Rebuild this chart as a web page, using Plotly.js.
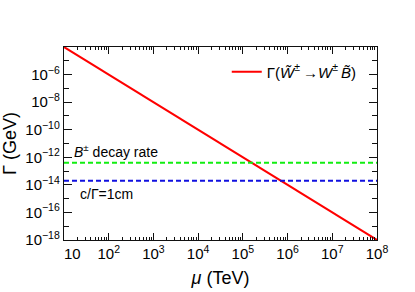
<!DOCTYPE html>
<html><head><meta charset="utf-8">
<script src="https://cdn.plot.ly/plotly-3.0.1.min.js"></script>
<style>html,body{margin:0;padding:0;background:#fff;}#c{width:415px;height:292px;}</style>
</head><body><div id="c"></div>
<script>
// Data
const muTeV = [10, 1e8];
const gammaWino = [1e-4, 1e-18];
const bandX = [10, 1e8];
const bDecayRate = [4e-13, 4e-13];
const ctau1cm = [2e-14, 2e-14];
const xTickVals = [10, 1e2, 1e3, 1e4, 1e5, 1e6, 1e7, 1e8];
const xTickText = ['\u00a0\u00a0\u00a0\u00a010', '10<sup>2</sup>', '10<sup>3</sup>', '10<sup>4</sup>', '10<sup>5</sup>', '10<sup>6</sup>', '10<sup>7</sup>', '10<sup>8</sup>'];
const yTickVals = [1e-18, 1e-16, 1e-14, 1e-12, 1e-10, 1e-8, 1e-6];
const yTickText = ['10<sup>\u221218</sup>', '10<sup>\u221216</sup>', '10<sup>\u221214</sup>', '10<sup>\u221212</sup>', '10<sup>\u221210</sup>', '10<sup>\u22128</sup>', '10<sup>\u22126</sup>'];

const xMinor = [];
for (let e = 1; e < 8; e++) for (let m = 2; m <= 9; m++) xMinor.push(m * Math.pow(10, e));
const yMinor = [];
for (let e = -17; e <= -5; e += 2) yMinor.push(Math.pow(10, e));

const font = {family: 'Liberation Sans, Arial, sans-serif', color: '#000'};

const traces = [
  {x: muTeV, y: gammaWino, mode: 'lines', line: {color: '#ff0000', width: 2},
   name: '\u0393(<i>W\u0303</i><sup>\u00b1</sup>\u2009\u2192<i>W</i><sup>\u00b1</sup>\u2009<i>B\u0303</i>)'},
  {x: bandX, y: bDecayRate, mode: 'lines', line: {color: '#11ee11', width: 2, dash: '5px,3px'}, showlegend: false},
  {x: bandX, y: ctau1cm, mode: 'lines', line: {color: '#1010e0', width: 2, dash: '5px,3px'}, showlegend: false}
];

const layout = {
  width: 415, height: 292,
  margin: {l: 64, r: 38, t: 47, b: 52},
  paper_bgcolor: '#fff', plot_bgcolor: '#fff',
  font: Object.assign({size: 15}, font),
  showlegend: true,
  legend: {x: 0.52, y: 0.87, xanchor: 'left', yanchor: 'middle', bgcolor: 'rgba(0,0,0,0)',
           font: Object.assign({size: 15}, font), itemwidth: 30},
  xaxis: {type: 'log', range: [1, 8], showgrid: false, zeroline: false,
          showline: true, linecolor: '#111', linewidth: 1.2, mirror: 'ticks',
          ticks: 'inside', ticklen: 7, tickcolor: '#111', tickwidth: 1,
          tickmode: 'array', tickvals: xTickVals, ticktext: xTickText,
          tickfont: Object.assign({size: 15}, font),
          minor: {tickmode: 'array', tickvals: xMinor, ticks: 'inside', ticklen: 3, tickcolor: '#111', tickwidth: 1, showgrid: false},
          title: {text: '<i>\u03bc</i> (TeV)', font: Object.assign({size: 18}, font), standoff: 10}},
  yaxis: {type: 'log', range: [-18, -4], showgrid: false, zeroline: false,
          showline: true, linecolor: '#111', linewidth: 1.2, mirror: 'ticks',
          ticks: 'inside', ticklen: 8, tickcolor: '#111', tickwidth: 1,
          tickmode: 'array', tickvals: yTickVals, ticktext: yTickText,
          tickfont: Object.assign({size: 15}, font),
          minor: {tickmode: 'array', tickvals: yMinor, ticks: 'inside', ticklen: 5, tickcolor: '#111', tickwidth: 1, showgrid: false},
          title: {text: '\u0393 (GeV)', font: Object.assign({size: 18}, font), standoff: 6}},
  annotations: [
    {x: 1, y: Math.log10(bDecayRate[0]), xref: 'x', yref: 'y', text: '<i>B</i><sup>\u00b1</sup> decay rate',
     showarrow: false, xanchor: 'left', yanchor: 'bottom', xshift: 8, yshift: 1, font: Object.assign({size: 14}, font)},
    {x: 1, y: Math.log10(ctau1cm[0]), xref: 'x', yref: 'y', text: 'c/\u0393=1cm',
     showarrow: false, xanchor: 'left', yanchor: 'top', xshift: 14, yshift: -3, font: Object.assign({size: 14}, font)}
  ]
};

Plotly.newPlot('c', traces, layout, {staticPlot: true, displayModeBar: false});
</script></body></html>
